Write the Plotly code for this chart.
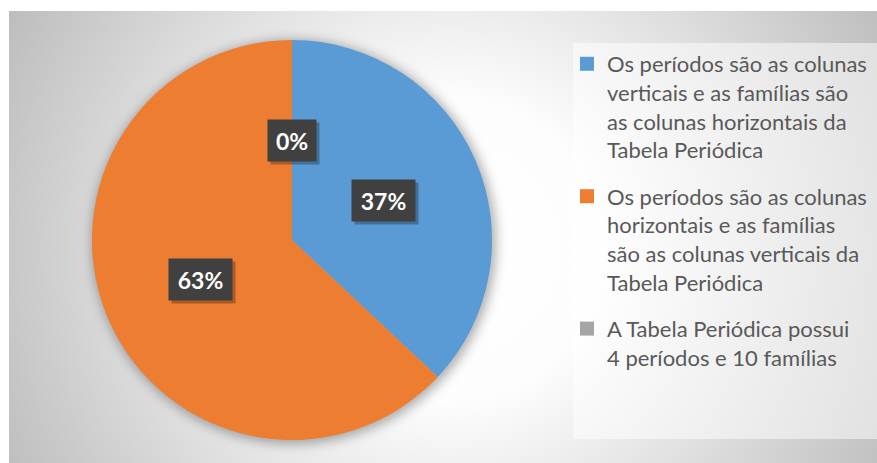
import base64
import math
import plotly.graph_objects as go

# Survey answers: share of responses per statement (percent)
labels = [
    "Os períodos são as colunas<br>verticais e as famílias são<br>as colunas horizontais da<br>Tabela Periódica",
    "Os períodos são as colunas<br>horizontais e as famílias<br>são as colunas verticais da<br>Tabela Periódica",
    "A Tabela Periódica possui<br>4 períodos e 10 famílias",
]
values = [37, 63, 0]
colors = ["#5B9BD5", "#ED7D31", "#A5A5A5"]

W, H = 877, 463
# pie geometry in pixels
PIE_CX, PIE_CY, PIE_R = 292, 240, 200
FONT = "Lato"

# background: radial grey gradient, soft pie shadow, translucent legend panel
svg = f"""<svg xmlns='http://www.w3.org/2000/svg' width='{W}' height='{H}' viewBox='0 0 {W} {H}'>
<defs>
<radialGradient id='bg' gradientUnits='userSpaceOnUse' cx='450' cy='250' r='500'>
<stop offset='0' stop-color='#ffffff'/>
<stop offset='0.3' stop-color='#fdfdfd'/>
<stop offset='1' stop-color='#bdbdbd'/>
</radialGradient>
<filter id='blur' x='-20%' y='-20%' width='140%' height='140%'>
<feGaussianBlur stdDeviation='6'/>
</filter>
</defs>
<rect x='0' y='0' width='{W}' height='{H}' fill='#ffffff'/>
<rect x='9' y='11' width='{W-9}' height='{H-11}' fill='url(#bg)'/>
<circle cx='{PIE_CX+2}' cy='{PIE_CY+2}' r='{PIE_R+2}' fill='#000000' fill-opacity='0.32' filter='url(#blur)'/>
<rect x='573' y='43' width='{W-573}' height='396' fill='#ffffff' fill-opacity='0.5'/>
</svg>"""
bg_src = "data:image/svg+xml;base64," + base64.b64encode(svg.encode("utf-8")).decode("ascii")

fig = go.Figure()
fig.add_trace(
    go.Pie(
        labels=labels,
        values=values,
        marker=dict(colors=colors, line=dict(width=0)),
        sort=False,
        direction="clockwise",
        rotation=0,
        textinfo="none",
        hoverinfo="label+percent",
        showlegend=False,
        domain=dict(
            x=[(PIE_CX - PIE_R) / W, (PIE_CX + PIE_R) / W],
            y=[1 - (PIE_CY + PIE_R) / H, 1 - (PIE_CY - PIE_R) / H],
        ),
    )
)

# legend entries, one group per statement so the groups can be spaced apart
for i, (lab, col) in enumerate(zip(labels, colors)):
    fig.add_trace(
        go.Scatter(
            x=[None], y=[None], mode="markers", name=lab,
            marker=dict(symbol="square", size=14, color=col),
            legendgroup=f"g{i}", showlegend=True, hoverinfo="skip",
        )
    )

# percentage badges placed halfway out along each slice's mid-angle
total = sum(values)
annotations = []
cum = 0
for v in values:
    theta = math.radians(360 * (cum + v / 2) / total)
    cum += v
    px = PIE_CX + 0.5 * PIE_R * math.sin(theta)
    py = PIE_CY - 0.5 * PIE_R * math.cos(theta)
    txt = f"{round(100 * v / total)}%"
    box = dict(x=px / W, y=1 - py / H, xref="paper", yref="paper",
               xanchor="center", yanchor="middle",
               showarrow=False, borderpad=8, width=15 * len(txt) + 2, height=25)
    # drop shadow behind the badge
    annotations.append(dict(text=" ", bgcolor="rgba(0,0,0,0.28)", xshift=3, yshift=-3,
                            font=dict(family=FONT, size=23), **box))
    annotations.append(dict(text=txt, bgcolor="#404040",
                            font=dict(family=FONT, size=23, weight="bold", color="#ffffff"),
                            **box))

fig.update_layout(
    width=W,
    height=H,
    margin=dict(l=0, r=0, t=0, b=0, autoexpand=False),
    paper_bgcolor="#ffffff",
    plot_bgcolor="rgba(0,0,0,0)",
    xaxis=dict(visible=False),
    yaxis=dict(visible=False),
    showlegend=True,
    legend=dict(
        x=567 / W, y=1 - 43 / H, xanchor="left", yanchor="top",
        bgcolor="rgba(0,0,0,0)",
        font=dict(family=FONT, size=22, color="#595959"),
        itemwidth=30,
        valign="top",
        tracegroupgap=15,
        itemclick=False, itemdoubleclick=False,
    ),
    annotations=annotations,
    images=[dict(source=bg_src, xref="paper", yref="paper", x=0, y=1,
                 sizex=1, sizey=1, sizing="stretch", layer="below")],
)

fig.write_html("out.html")
